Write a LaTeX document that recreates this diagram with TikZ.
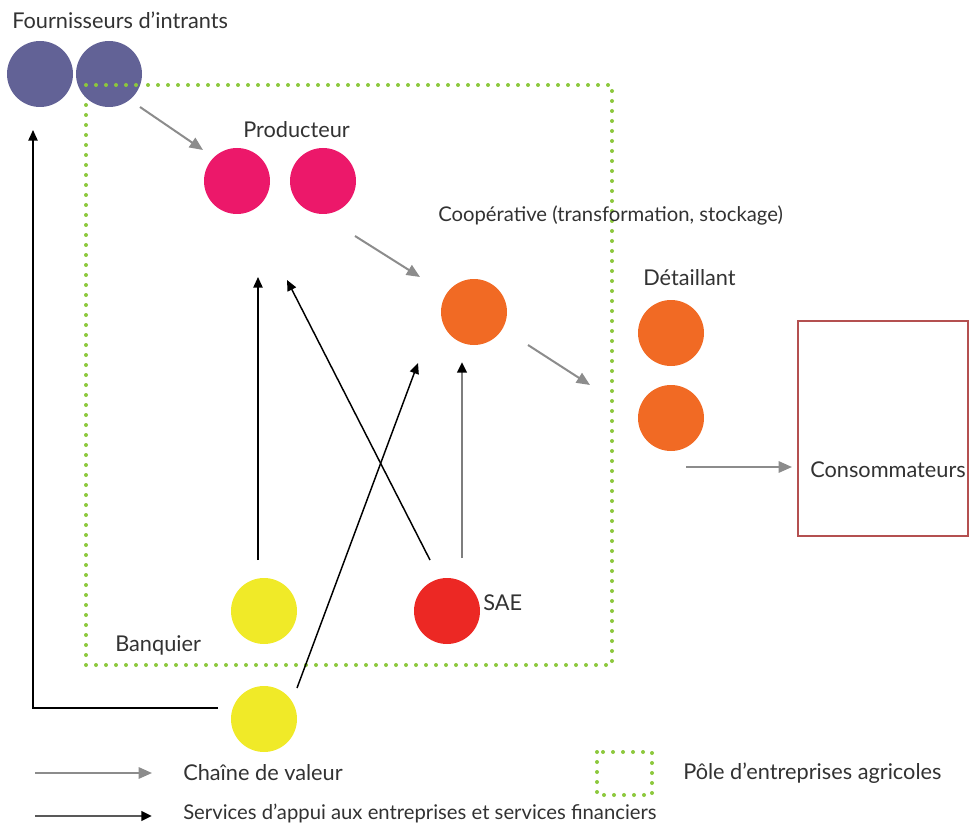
\documentclass[tikz,border=0pt]{standalone}
\usepackage{fontspec}
\setmainfont{Lato}
\usetikzlibrary{arrows.meta}
\definecolor{txt}{RGB}{50,50,50}
\definecolor{purp}{RGB}{98,98,150}
\definecolor{pinkc}{RGB}{236,24,106}
\definecolor{orangec}{RGB}{241,106,36}
\definecolor{yellowc}{RGB}{240,234,40}
\definecolor{redc}{RGB}{236,40,36}
\definecolor{greenc}{RGB}{140,200,60}
\definecolor{grayc}{RGB}{140,140,140}
\definecolor{boxred}{RGB}{180,80,80}
\tikzset{
  dot/.style={circle,minimum size=49.5pt,inner sep=0pt,draw=none},
  lbl/.style={anchor=west,inner sep=0pt,text=txt,font=\fontsize{16.3}{18}\selectfont},
  slbl/.style={anchor=west,inner sep=0pt,text=txt,font=\fontsize{15.2}{17}\selectfont},
  chain/.style={draw=grayc,line width=1.5pt,-{Triangle[length=10pt,width=8.5pt]}},
  serv/.style={draw=black,line width=1.1pt,-{Triangle[length=8pt,width=7pt]}},
  servg/.style={draw=grayc!90!black,line width=2pt,-{Triangle[length=8pt,width=7pt,color=black]}},
  pole/.style={draw=greenc,line width=3pt,line cap=round,dash pattern=on 0pt off 7.5pt}
}
\begin{document}
\begin{tikzpicture}[x=0.75pt,y=-0.75pt]
\useasboundingbox (0,0) rectangle (970,827);
% pole rectangle
\draw[pole] (86,85) rectangle (612,665);
% circles
\node[dot,fill=purp] (F1) at (40,74) {};
\node[dot,fill=purp] (F2) at (109,74) {};
\draw[pole] (86,85) -- (140,85);
\node[dot,fill=pinkc] (P1) at (237,181) {};
\node[dot,fill=pinkc] (P2) at (323,181) {};
\node[dot,fill=orangec] (C) at (474,312) {};
\node[dot,fill=orangec] (D1) at (671,333) {};
\node[dot,fill=orangec] (D2) at (671,418) {};
\node[dot,fill=yellowc] (B1) at (264,611) {};
\node[dot,fill=yellowc] (B2) at (264,719) {};
\node[dot,fill=redc] (S) at (447,611) {};
% consumers box
\draw[boxred,line width=1.6pt] (798,321) rectangle (968,536);
\node (K) at (883,428) {};
% labels
\node[lbl] (tF) at (12,20) {Fournisseurs d'intrants};
\node[lbl] (tP) at (243,130) {Producteur};
\node[slbl] (tC) at (438,215) {Coopérative (transformation, stockage)};
\node[lbl] (tD) at (643,278) {Détaillant};
\node[lbl] (tK) at (810,470) {Consommateurs};
\node[lbl] (tS) at (483,603) {SAE};
\node[lbl] (tB) at (115,645) {Banquier};
% arrow end points
\coordinate (a1) at (140,107); \coordinate (a2) at (203,150);
\coordinate (b1) at (355,236); \coordinate (b2) at (420,277);
\coordinate (c1) at (528,345); \coordinate (c2) at (590,385);
\coordinate (d1) at (686,467); \coordinate (d2) at (792,467);
\coordinate (e1) at (258,560); \coordinate (e2) at (258,277);
\coordinate (f1) at (430,560); \coordinate (f2) at (287,280);
\coordinate (g1) at (462,558); \coordinate (g2) at (462,362);
\coordinate (h1) at (297,688); \coordinate (h2) at (418,363);
\coordinate (i1) at (218,708); \coordinate (i2) at (33,130);
% value chain arrows
\draw[chain] (a1) -- (a2);
\draw[chain] (b1) -- (b2);
\draw[chain] (c1) -- (c2);
\draw[chain] (d1) -- (d2);
% services arrows
\draw[serv] (e1) -- (e2);
\draw[serv] (f1) -- (f2);
\draw[servg] (g1) -- (g2);
\draw[serv] (h1) -- (h2);
\draw[serv] (i1) -| (i2);
% legend
\coordinate (l1) at (35,773); \coordinate (l2) at (152,773);
\coordinate (m1) at (35,816); \coordinate (m2) at (152,816);
\draw[chain] (l1) -- (l2);
\draw[servg,draw=black!65] (m1) -- (m2);
\node[lbl] (tL1) at (183,773) {Chaîne de valeur};
\node[slbl] (tL2) at (183,813) {Services d'appui aux entreprises et services financiers};
\draw[pole] (597,752) rectangle (652,795);
\node[lbl] (tL3) at (683,773) {Pôle d'entreprises agricoles};
\end{tikzpicture}
\end{document}
